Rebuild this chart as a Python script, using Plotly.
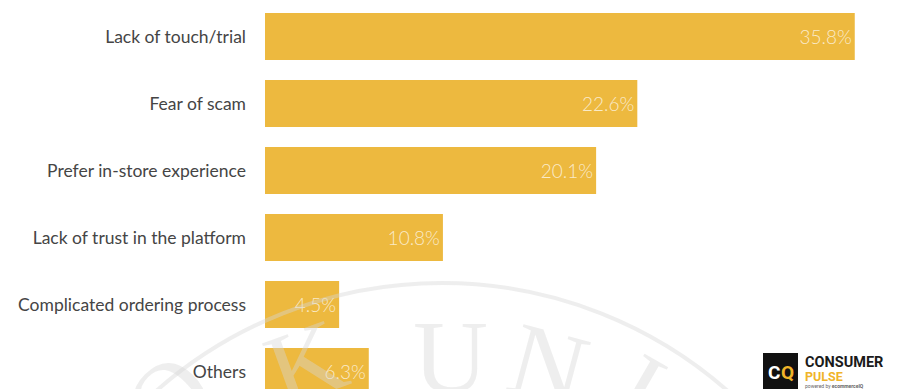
import plotly.graph_objects as go

# Reasons for not shopping online (share of respondents, %)
categories = [
    "Lack of touch/trial",
    "Fear of scam",
    "Prefer in-store experience",
    "Lack of trust in the platform",
    "Complicated ordering process",
    "Others",
]
values = [35.8, 22.6, 20.1, 10.8, 4.5, 6.3]
value_labels = ["35.8%", "22.6%", "20.1%", "10.8%", "4.5%", "6.3%"]

W, H = 899, 389
ML, MR, MT, MB = 265, 8, 3, 0
PW, PH = W - ML - MR, H - MT - MB

BAR = "#EDB93F"
WM = "rgba(215,215,215,0.42)"


def px(x):
    return (x - ML) / PW


def py(y):
    return (H - MB - y) / PH


fig = go.Figure(
    go.Bar(
        x=values,
        y=categories,
        orientation="h",
        marker=dict(color=BAR, line=dict(width=0)),
        text=value_labels,
        textposition="inside",
        insidetextanchor="end",
        textfont=dict(family="Lato", size=19, color="rgba(255,255,255,0.72)", weight=300),
        width=0.7,
        hoverinfo="skip",
    )
)

# faint circular seal watermark
shapes = [
    dict(type="circle", xref="paper", yref="paper",
         x0=px(10), x1=px(874), y0=py(1147), y1=py(283),
         line=dict(color=WM, width=4), layer="above"),
    # logo square
    dict(type="rect", xref="paper", yref="paper",
         x0=px(763), x1=px(798), y0=py(392), y1=py(353),
         fillcolor="#111111", line=dict(width=0), layer="above"),
]

annotations = []
for ch, cx, cy, ang in [("O", 168, 398, -45), ("K", 305, 362, -20), ("U", 450, 356, 0),
                        ("N", 548, 364, 15), ("I", 640, 388, 30)]:
    annotations.append(dict(
        text=ch, x=px(cx), y=py(cy), xref="paper", yref="paper",
        xanchor="center", yanchor="middle", showarrow=False, textangle=ang,
        font=dict(family="Liberation Serif", size=104, color=WM, weight=300),
    ))

# logo text
logo_font = "Roboto"
annotations += [
    dict(text="<b>C</b>", x=px(774), y=py(372), xref="paper", yref="paper",
         xanchor="center", yanchor="middle", showarrow=False, borderpad=0,
         font=dict(family=logo_font, size=19, color="white")),
    dict(text="<b>Q</b>", x=px(787), y=py(372), xref="paper", yref="paper",
         xanchor="center", yanchor="middle", showarrow=False, borderpad=0,
         font=dict(family=logo_font, size=19, color="#F0B429")),
    dict(text="<b>CONSUMER</b>", x=px(804), y=py(362), xref="paper", yref="paper",
         xanchor="left", yanchor="middle", showarrow=False, borderpad=0,
         font=dict(family=logo_font, size=14.5, color="#1a1a1a")),
    dict(text="<b>PULSE</b>", x=px(804), y=py(376), xref="paper", yref="paper",
         xanchor="left", yanchor="middle", showarrow=False, borderpad=0,
         font=dict(family=logo_font, size=12.5, color="#F0B429")),
    dict(text="powered by <b>ecommerceIQ</b>", x=px(804), y=py(386), xref="paper", yref="paper",
         xanchor="left", yanchor="middle", showarrow=False, borderpad=0,
         font=dict(family=logo_font, size=5, color="#666666")),
]

fig.update_layout(
    width=W, height=H,
    margin=dict(l=ML, r=MR, t=MT, b=MB, pad=0),
    paper_bgcolor="white", plot_bgcolor="white",
    showlegend=False,
    bargap=0.3,
    xaxis=dict(range=[0, 38], visible=False, fixedrange=True),
    yaxis=dict(
        range=[5.261, -0.5],
        categoryorder="array", categoryarray=categories,
        showgrid=False, zeroline=False, showline=False, ticks="",
        ticklabelstandoff=18,
        tickfont=dict(family="Lato", size=17.5, color="#454545"),
        fixedrange=True,
    ),
    shapes=shapes,
    annotations=annotations,
)

fig.write_html("out.html")
